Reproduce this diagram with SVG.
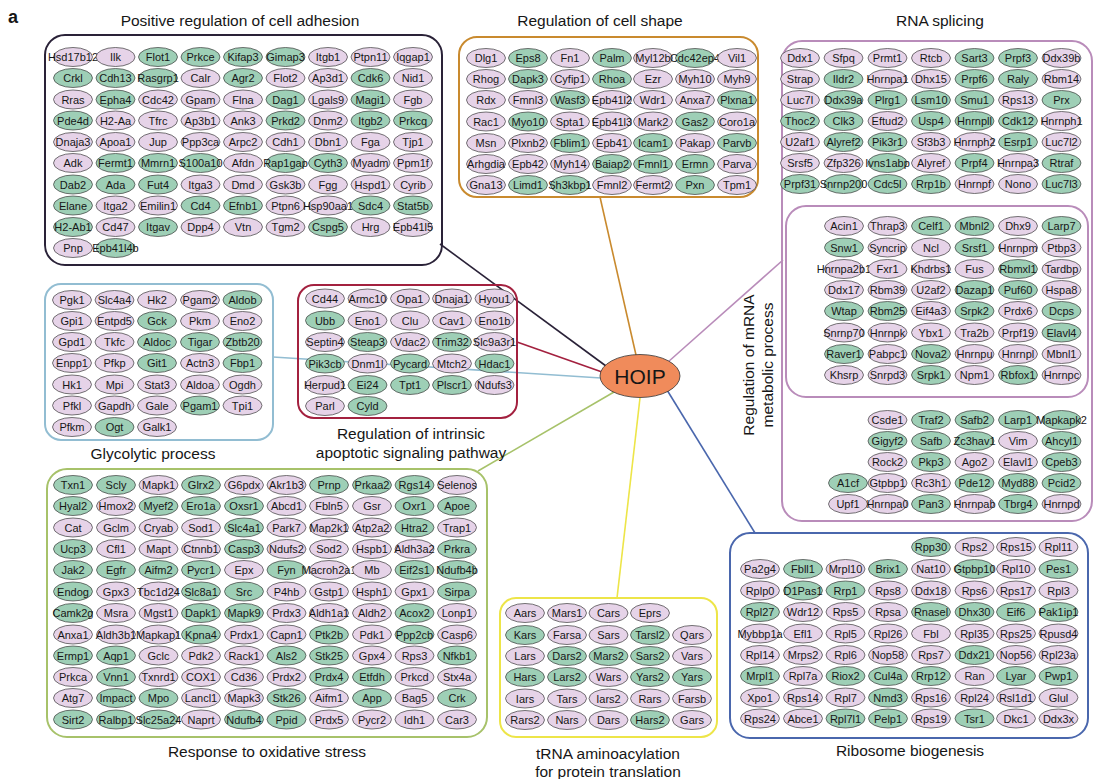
<svg xmlns="http://www.w3.org/2000/svg" xmlns:xlink="http://www.w3.org/1999/xlink" width="1095" height="779" viewBox="0 0 1095 779">
<style>
text{font-family:"Liberation Sans",Arial,Helvetica,sans-serif;fill:#161616}
.nd text{font-size:11px;text-anchor:middle}
.ttl{font-size:15.5px;text-anchor:middle}
.box{fill:none;stroke-width:2}
.cn line{stroke-width:1.6}
</style>
<defs>
<ellipse id="P" rx="19.5" ry="9.5" fill="#e6d3e8" stroke="#3c3c3c" stroke-width="0.7"/>
<ellipse id="G" rx="19.5" ry="9.5" fill="#9ecfb6" stroke="#3c3c3c" stroke-width="0.7"/>
</defs>
<rect width="1095" height="779" fill="#fff"/>
<text x="8" y="23" style="font-size:18px;font-weight:bold">a</text>

<g id="connectors" class="cn">
<line x1="440" y1="244" x2="606" y2="366" stroke="#2a2238"/>
<line x1="600" y1="197" x2="636" y2="355" stroke="#c98a2e"/>
<line x1="783" y1="260" x2="668" y2="362" stroke="#b98cba"/>
<line x1="517" y1="342" x2="602" y2="372" stroke="#a3213f"/>
<line x1="273" y1="357" x2="601" y2="378" stroke="#92bdd2"/>
<line x1="478" y1="471" x2="614" y2="392" stroke="#a7c26a"/>
<line x1="617" y1="598" x2="640" y2="398" stroke="#ede548"/>
<line x1="755" y1="533" x2="667" y2="390" stroke="#4a67ad"/>
</g>

<g id="hoip"><ellipse cx="640" cy="376" rx="40" ry="21.5" fill="#f08b5b" stroke="#333" stroke-width="0.8"/><text x="640" y="383.5" style="font-size:21px;text-anchor:middle">HOIP</text></g>

<g id="cluster-adhesion" class="nd">
<rect class="box" x="45" y="35" width="397" height="230" rx="20" stroke="#2a2238"/>
<text class="ttl" x="240" y="26" style="font-size:15.5px">Positive regulation of cell adhesion</text>
<g id="n_Hsd17b12" transform="translate(73,57)"><use href="#P"/><text y="4">Hsd17b12</text></g>
<g id="n_Ilk" transform="translate(115.5,57)"><use href="#P"/><text y="4">Ilk</text></g>
<g id="n_Flot1" transform="translate(158,57)"><use href="#G"/><text y="4">Flot1</text></g>
<g id="n_Prkce" transform="translate(200.5,57)"><use href="#G"/><text y="4">Prkce</text></g>
<g id="n_Kifap3" transform="translate(243,57)"><use href="#G"/><text y="4">Kifap3</text></g>
<g id="n_Gimap3" transform="translate(285.5,57)"><use href="#G"/><text y="4">Gimap3</text></g>
<g id="n_Itgb1" transform="translate(328,57)"><use href="#P"/><text y="4">Itgb1</text></g>
<g id="n_Ptpn11" transform="translate(370.5,57)"><use href="#P"/><text y="4">Ptpn11</text></g>
<g id="n_Iqgap1" transform="translate(413,57)"><use href="#P"/><text y="4">Iqgap1</text></g>
<g id="n_Crkl" transform="translate(73,78)"><use href="#G"/><text y="4">Crkl</text></g>
<g id="n_Cdh13" transform="translate(115.5,78)"><use href="#G"/><text y="4">Cdh13</text></g>
<g id="n_Rasgrp1" transform="translate(158,78)"><use href="#G"/><text y="4">Rasgrp1</text></g>
<g id="n_Calr" transform="translate(200.5,78)"><use href="#P"/><text y="4">Calr</text></g>
<g id="n_Agr2" transform="translate(243,78)"><use href="#G"/><text y="4">Agr2</text></g>
<g id="n_Flot2" transform="translate(285.5,78)"><use href="#P"/><text y="4">Flot2</text></g>
<g id="n_Ap3d1" transform="translate(328,78)"><use href="#P"/><text y="4">Ap3d1</text></g>
<g id="n_Cdk6" transform="translate(370.5,78)"><use href="#G"/><text y="4">Cdk6</text></g>
<g id="n_Nid1" transform="translate(413,78)"><use href="#P"/><text y="4">Nid1</text></g>
<g id="n_Rras" transform="translate(73,99.5)"><use href="#P"/><text y="4">Rras</text></g>
<g id="n_Epha4" transform="translate(115.5,99.5)"><use href="#G"/><text y="4">Epha4</text></g>
<g id="n_Cdc42" transform="translate(158,99.5)"><use href="#P"/><text y="4">Cdc42</text></g>
<g id="n_Gpam" transform="translate(200.5,99.5)"><use href="#P"/><text y="4">Gpam</text></g>
<g id="n_Flna" transform="translate(243,99.5)"><use href="#P"/><text y="4">Flna</text></g>
<g id="n_Dag1" transform="translate(285.5,99.5)"><use href="#G"/><text y="4">Dag1</text></g>
<g id="n_Lgals9" transform="translate(328,99.5)"><use href="#P"/><text y="4">Lgals9</text></g>
<g id="n_Magi1" transform="translate(370.5,99.5)"><use href="#G"/><text y="4">Magi1</text></g>
<g id="n_Fgb" transform="translate(413,99.5)"><use href="#P"/><text y="4">Fgb</text></g>
<g id="n_Pde4d" transform="translate(73,120.5)"><use href="#G"/><text y="4">Pde4d</text></g>
<g id="n_H2-Aa" transform="translate(115.5,120.5)"><use href="#P"/><text y="4">H2-Aa</text></g>
<g id="n_Tfrc" transform="translate(158,120.5)"><use href="#P"/><text y="4">Tfrc</text></g>
<g id="n_Ap3b1" transform="translate(200.5,120.5)"><use href="#P"/><text y="4">Ap3b1</text></g>
<g id="n_Ank3" transform="translate(243,120.5)"><use href="#P"/><text y="4">Ank3</text></g>
<g id="n_Prkd2" transform="translate(285.5,120.5)"><use href="#G"/><text y="4">Prkd2</text></g>
<g id="n_Dnm2" transform="translate(328,120.5)"><use href="#P"/><text y="4">Dnm2</text></g>
<g id="n_Itgb2" transform="translate(370.5,120.5)"><use href="#G"/><text y="4">Itgb2</text></g>
<g id="n_Prkcq" transform="translate(413,120.5)"><use href="#G"/><text y="4">Prkcq</text></g>
<g id="n_Dnaja3" transform="translate(73,142)"><use href="#P"/><text y="4">Dnaja3</text></g>
<g id="n_Apoa1" transform="translate(115.5,142)"><use href="#P"/><text y="4">Apoa1</text></g>
<g id="n_Jup" transform="translate(158,142)"><use href="#P"/><text y="4">Jup</text></g>
<g id="n_Ppp3ca" transform="translate(200.5,142)"><use href="#P"/><text y="4">Ppp3ca</text></g>
<g id="n_Arpc2" transform="translate(243,142)"><use href="#P"/><text y="4">Arpc2</text></g>
<g id="n_Cdh1" transform="translate(285.5,142)"><use href="#P"/><text y="4">Cdh1</text></g>
<g id="n_Dbn1" transform="translate(328,142)"><use href="#P"/><text y="4">Dbn1</text></g>
<g id="n_Fga" transform="translate(370.5,142)"><use href="#P"/><text y="4">Fga</text></g>
<g id="n_Tjp1" transform="translate(413,142)"><use href="#P"/><text y="4">Tjp1</text></g>
<g id="n_Adk" transform="translate(73,163)"><use href="#P"/><text y="4">Adk</text></g>
<g id="n_Fermt1" transform="translate(115.5,163)"><use href="#G"/><text y="4">Fermt1</text></g>
<g id="n_Mmrn1" transform="translate(158,163)"><use href="#G"/><text y="4">Mmrn1</text></g>
<g id="n_S100a10" transform="translate(200.5,163)"><use href="#G"/><text y="4">S100a10</text></g>
<g id="n_Afdn" transform="translate(243,163)"><use href="#P"/><text y="4">Afdn</text></g>
<g id="n_Rap1gap" transform="translate(285.5,163)"><use href="#G"/><text y="4">Rap1gap</text></g>
<g id="n_Cyth3" transform="translate(328,163)"><use href="#G"/><text y="4">Cyth3</text></g>
<g id="n_Myadm" transform="translate(370.5,163)"><use href="#P"/><text y="4">Myadm</text></g>
<g id="n_Ppm1f" transform="translate(413,163)"><use href="#P"/><text y="4">Ppm1f</text></g>
<g id="n_Dab2" transform="translate(73,184.5)"><use href="#G"/><text y="4">Dab2</text></g>
<g id="n_Ada" transform="translate(115.5,184.5)"><use href="#G"/><text y="4">Ada</text></g>
<g id="n_Fut4" transform="translate(158,184.5)"><use href="#G"/><text y="4">Fut4</text></g>
<g id="n_Itga3" transform="translate(200.5,184.5)"><use href="#P"/><text y="4">Itga3</text></g>
<g id="n_Dmd" transform="translate(243,184.5)"><use href="#P"/><text y="4">Dmd</text></g>
<g id="n_Gsk3b" transform="translate(285.5,184.5)"><use href="#P"/><text y="4">Gsk3b</text></g>
<g id="n_Fgg" transform="translate(328,184.5)"><use href="#P"/><text y="4">Fgg</text></g>
<g id="n_Hspd1" transform="translate(370.5,184.5)"><use href="#P"/><text y="4">Hspd1</text></g>
<g id="n_Cyrib" transform="translate(413,184.5)"><use href="#P"/><text y="4">Cyrib</text></g>
<g id="n_Elane" transform="translate(73,205.5)"><use href="#G"/><text y="4">Elane</text></g>
<g id="n_Itga2" transform="translate(115.5,205.5)"><use href="#P"/><text y="4">Itga2</text></g>
<g id="n_Emilin1" transform="translate(158,205.5)"><use href="#P"/><text y="4">Emilin1</text></g>
<g id="n_Cd4" transform="translate(200.5,205.5)"><use href="#G"/><text y="4">Cd4</text></g>
<g id="n_Efnb1" transform="translate(243,205.5)"><use href="#G"/><text y="4">Efnb1</text></g>
<g id="n_Ptpn6" transform="translate(285.5,205.5)"><use href="#P"/><text y="4">Ptpn6</text></g>
<g id="n_Hsp90aa1" transform="translate(328,205.5)"><use href="#P"/><text y="4">Hsp90aa1</text></g>
<g id="n_Sdc4" transform="translate(370.5,205.5)"><use href="#G"/><text y="4">Sdc4</text></g>
<g id="n_Stat5b" transform="translate(413,205.5)"><use href="#G"/><text y="4">Stat5b</text></g>
<g id="n_H2-Ab1" transform="translate(73,227)"><use href="#G"/><text y="4">H2-Ab1</text></g>
<g id="n_Cd47" transform="translate(115.5,227)"><use href="#P"/><text y="4">Cd47</text></g>
<g id="n_Itgav" transform="translate(158,227)"><use href="#G"/><text y="4">Itgav</text></g>
<g id="n_Dpp4" transform="translate(200.5,227)"><use href="#P"/><text y="4">Dpp4</text></g>
<g id="n_Vtn" transform="translate(243,227)"><use href="#P"/><text y="4">Vtn</text></g>
<g id="n_Tgm2" transform="translate(285.5,227)"><use href="#P"/><text y="4">Tgm2</text></g>
<g id="n_Cspg5" transform="translate(328,227)"><use href="#G"/><text y="4">Cspg5</text></g>
<g id="n_Hrg" transform="translate(370.5,227)"><use href="#P"/><text y="4">Hrg</text></g>
<g id="n_Epb41l5" transform="translate(413,227)"><use href="#P"/><text y="4">Epb41l5</text></g>
<g id="n_Pnp" transform="translate(73,248)"><use href="#P"/><text y="4">Pnp</text></g>
<g id="n_Epb41l4b" transform="translate(115.5,248)"><use href="#G"/><text y="4">Epb41l4b</text></g>
</g>

<g id="cluster-shape" class="nd">
<rect class="box" x="459" y="37" width="299" height="160" rx="18" stroke="#c98a2e"/>
<text class="ttl" x="600" y="26" style="font-size:15.5px">Regulation of cell shape</text>
<g id="n_Dlg1" transform="translate(486,58)"><use href="#P"/><text y="4">Dlg1</text></g>
<g id="n_Eps8" transform="translate(528,58)"><use href="#G"/><text y="4">Eps8</text></g>
<g id="n_Fn1" transform="translate(570,58)"><use href="#P"/><text y="4">Fn1</text></g>
<g id="n_Palm" transform="translate(612,58)"><use href="#G"/><text y="4">Palm</text></g>
<g id="n_Myl12b" transform="translate(653,58)"><use href="#P"/><text y="4">Myl12b</text></g>
<g id="n_Cdc42ep4" transform="translate(695,58)"><use href="#G"/><text y="4">Cdc42ep4</text></g>
<g id="n_Vil1" transform="translate(737,58)"><use href="#P"/><text y="4">Vil1</text></g>
<g id="n_Rhog" transform="translate(486,79)"><use href="#P"/><text y="4">Rhog</text></g>
<g id="n_Dapk3" transform="translate(528,79)"><use href="#G"/><text y="4">Dapk3</text></g>
<g id="n_Cyfip1" transform="translate(570,79)"><use href="#P"/><text y="4">Cyfip1</text></g>
<g id="n_Rhoa" transform="translate(612,79)"><use href="#G"/><text y="4">Rhoa</text></g>
<g id="n_Ezr" transform="translate(653,79)"><use href="#P"/><text y="4">Ezr</text></g>
<g id="n_Myh10" transform="translate(695,79)"><use href="#P"/><text y="4">Myh10</text></g>
<g id="n_Myh9" transform="translate(737,79)"><use href="#P"/><text y="4">Myh9</text></g>
<g id="n_Rdx" transform="translate(486,100)"><use href="#P"/><text y="4">Rdx</text></g>
<g id="n_Fmnl3" transform="translate(528,100)"><use href="#P"/><text y="4">Fmnl3</text></g>
<g id="n_Wasf3" transform="translate(570,100)"><use href="#G"/><text y="4">Wasf3</text></g>
<g id="n_Epb41l2" transform="translate(612,100)"><use href="#P"/><text y="4">Epb41l2</text></g>
<g id="n_Wdr1" transform="translate(653,100)"><use href="#P"/><text y="4">Wdr1</text></g>
<g id="n_Anxa7" transform="translate(695,100)"><use href="#P"/><text y="4">Anxa7</text></g>
<g id="n_Plxna1" transform="translate(737,100)"><use href="#G"/><text y="4">Plxna1</text></g>
<g id="n_Rac1" transform="translate(486,121.5)"><use href="#P"/><text y="4">Rac1</text></g>
<g id="n_Myo10" transform="translate(528,121.5)"><use href="#G"/><text y="4">Myo10</text></g>
<g id="n_Spta1" transform="translate(570,121.5)"><use href="#P"/><text y="4">Spta1</text></g>
<g id="n_Epb41l3" transform="translate(612,121.5)"><use href="#P"/><text y="4">Epb41l3</text></g>
<g id="n_Mark2" transform="translate(653,121.5)"><use href="#P"/><text y="4">Mark2</text></g>
<g id="n_Gas2" transform="translate(695,121.5)"><use href="#G"/><text y="4">Gas2</text></g>
<g id="n_Coro1a" transform="translate(737,121.5)"><use href="#P"/><text y="4">Coro1a</text></g>
<g id="n_Msn" transform="translate(486,143)"><use href="#P"/><text y="4">Msn</text></g>
<g id="n_Plxnb2" transform="translate(528,143)"><use href="#P"/><text y="4">Plxnb2</text></g>
<g id="n_Fblim1" transform="translate(570,143)"><use href="#G"/><text y="4">Fblim1</text></g>
<g id="n_Epb41" transform="translate(612,143)"><use href="#P"/><text y="4">Epb41</text></g>
<g id="n_Icam1" transform="translate(653,143)"><use href="#G"/><text y="4">Icam1</text></g>
<g id="n_Pakap" transform="translate(695,143)"><use href="#P"/><text y="4">Pakap</text></g>
<g id="n_Parvb" transform="translate(737,143)"><use href="#G"/><text y="4">Parvb</text></g>
<g id="n_Arhgdia" transform="translate(486,164)"><use href="#P"/><text y="4">Arhgdia</text></g>
<g id="n_Epb42" transform="translate(528,164)"><use href="#P"/><text y="4">Epb42</text></g>
<g id="n_Myh14" transform="translate(570,164)"><use href="#P"/><text y="4">Myh14</text></g>
<g id="n_Baiap2" transform="translate(612,164)"><use href="#G"/><text y="4">Baiap2</text></g>
<g id="n_Fmnl1" transform="translate(653,164)"><use href="#G"/><text y="4">Fmnl1</text></g>
<g id="n_Ermn" transform="translate(695,164)"><use href="#G"/><text y="4">Ermn</text></g>
<g id="n_Parva" transform="translate(737,164)"><use href="#P"/><text y="4">Parva</text></g>
<g id="n_Gna13" transform="translate(486,185)"><use href="#P"/><text y="4">Gna13</text></g>
<g id="n_Limd1" transform="translate(528,185)"><use href="#G"/><text y="4">Limd1</text></g>
<g id="n_Sh3kbp1" transform="translate(570,185)"><use href="#G"/><text y="4">Sh3kbp1</text></g>
<g id="n_Fmnl2" transform="translate(612,185)"><use href="#P"/><text y="4">Fmnl2</text></g>
<g id="n_Fermt2" transform="translate(653,185)"><use href="#P"/><text y="4">Fermt2</text></g>
<g id="n_Pxn" transform="translate(695,185)"><use href="#G"/><text y="4">Pxn</text></g>
<g id="n_Tpm1" transform="translate(737,185)"><use href="#P"/><text y="4">Tpm1</text></g>
</g>

<g id="cluster-rna" class="nd">
<rect class="box" x="782" y="41" width="310" height="480" rx="20" stroke="#b98cba"/>
<rect class="box" x="786" y="206" width="302" height="191" rx="20" stroke="#b98cba"/>
<text class="ttl" x="940" y="26" style="font-size:15.5px">RNA splicing</text>
<text class="ttl" transform="translate(754,365) rotate(-90)" style="font-size:15.5px">Regulation of mRNA</text>
<text class="ttl" transform="translate(773,365) rotate(-90)" style="font-size:15.5px">metabolic process</text>
<g id="n_Ddx1" transform="translate(800,58)"><use href="#P"/><text y="4">Ddx1</text></g>
<g id="n_Sfpq" transform="translate(843.5,58)"><use href="#P"/><text y="4">Sfpq</text></g>
<g id="n_Prmt1" transform="translate(887.5,58)"><use href="#P"/><text y="4">Prmt1</text></g>
<g id="n_Rtcb" transform="translate(931,58)"><use href="#P"/><text y="4">Rtcb</text></g>
<g id="n_Sart3" transform="translate(974.5,58)"><use href="#G"/><text y="4">Sart3</text></g>
<g id="n_Prpf3" transform="translate(1018,58)"><use href="#G"/><text y="4">Prpf3</text></g>
<g id="n_Ddx39b" transform="translate(1061.5,58)"><use href="#P"/><text y="4">Ddx39b</text></g>
<g id="n_Strap" transform="translate(800,79)"><use href="#P"/><text y="4">Strap</text></g>
<g id="n_Ildr2" transform="translate(843.5,79)"><use href="#G"/><text y="4">Ildr2</text></g>
<g id="n_Hnrnpa1" transform="translate(887.5,79)"><use href="#P"/><text y="4">Hnrnpa1</text></g>
<g id="n_Dhx15" transform="translate(931,79)"><use href="#P"/><text y="4">Dhx15</text></g>
<g id="n_Prpf6" transform="translate(974.5,79)"><use href="#G"/><text y="4">Prpf6</text></g>
<g id="n_Raly" transform="translate(1018,79)"><use href="#G"/><text y="4">Raly</text></g>
<g id="n_Rbm14" transform="translate(1061.5,79)"><use href="#P"/><text y="4">Rbm14</text></g>
<g id="n_Luc7l" transform="translate(800,100)"><use href="#P"/><text y="4">Luc7l</text></g>
<g id="n_Ddx39a" transform="translate(843.5,100)"><use href="#G"/><text y="4">Ddx39a</text></g>
<g id="n_Plrg1" transform="translate(887.5,100)"><use href="#G"/><text y="4">Plrg1</text></g>
<g id="n_Lsm10" transform="translate(931,100)"><use href="#G"/><text y="4">Lsm10</text></g>
<g id="n_Smu1" transform="translate(974.5,100)"><use href="#G"/><text y="4">Smu1</text></g>
<g id="n_Rps13" transform="translate(1018,100)"><use href="#P"/><text y="4">Rps13</text></g>
<g id="n_Prx" transform="translate(1061.5,100)"><use href="#G"/><text y="4">Prx</text></g>
<g id="n_Thoc2" transform="translate(800,121)"><use href="#G"/><text y="4">Thoc2</text></g>
<g id="n_Clk3" transform="translate(843.5,121)"><use href="#G"/><text y="4">Clk3</text></g>
<g id="n_Eftud2" transform="translate(887.5,121)"><use href="#P"/><text y="4">Eftud2</text></g>
<g id="n_Usp4" transform="translate(931,121)"><use href="#G"/><text y="4">Usp4</text></g>
<g id="n_Hnrnpll" transform="translate(974.5,121)"><use href="#G"/><text y="4">Hnrnpll</text></g>
<g id="n_Cdk12" transform="translate(1018,121)"><use href="#G"/><text y="4">Cdk12</text></g>
<g id="n_Hnrnph1" transform="translate(1061.5,121)"><use href="#P"/><text y="4">Hnrnph1</text></g>
<g id="n_U2af1" transform="translate(800,142)"><use href="#P"/><text y="4">U2af1</text></g>
<g id="n_Alyref2" transform="translate(843.5,142)"><use href="#G"/><text y="4">Alyref2</text></g>
<g id="n_Pik3r1" transform="translate(887.5,142)"><use href="#G"/><text y="4">Pik3r1</text></g>
<g id="n_Sf3b3" transform="translate(931,142)"><use href="#P"/><text y="4">Sf3b3</text></g>
<g id="n_Hnrnph2" transform="translate(974.5,142)"><use href="#P"/><text y="4">Hnrnph2</text></g>
<g id="n_Esrp1" transform="translate(1018,142)"><use href="#G"/><text y="4">Esrp1</text></g>
<g id="n_Luc7l2" transform="translate(1061.5,142)"><use href="#P"/><text y="4">Luc7l2</text></g>
<g id="n_Srsf5" transform="translate(800,163)"><use href="#P"/><text y="4">Srsf5</text></g>
<g id="n_Zfp326" transform="translate(843.5,163)"><use href="#P"/><text y="4">Zfp326</text></g>
<g id="n_Ivns1abp" transform="translate(887.5,163)"><use href="#G"/><text y="4">Ivns1abp</text></g>
<g id="n_Alyref" transform="translate(931,163)"><use href="#P"/><text y="4">Alyref</text></g>
<g id="n_Prpf4" transform="translate(974.5,163)"><use href="#G"/><text y="4">Prpf4</text></g>
<g id="n_Hnrnpa3" transform="translate(1018,163)"><use href="#P"/><text y="4">Hnrnpa3</text></g>
<g id="n_Rtraf" transform="translate(1061.5,163)"><use href="#G"/><text y="4">Rtraf</text></g>
<g id="n_Prpf31" transform="translate(800,184)"><use href="#G"/><text y="4">Prpf31</text></g>
<g id="n_Snrnp200" transform="translate(843.5,184)"><use href="#G"/><text y="4">Snrnp200</text></g>
<g id="n_Cdc5l" transform="translate(887.5,184)"><use href="#G"/><text y="4">Cdc5l</text></g>
<g id="n_Rrp1b" transform="translate(931,184)"><use href="#G"/><text y="4">Rrp1b</text></g>
<g id="n_Hnrnpf" transform="translate(974.5,184)"><use href="#P"/><text y="4">Hnrnpf</text></g>
<g id="n_Nono" transform="translate(1018,184)"><use href="#P"/><text y="4">Nono</text></g>
<g id="n_Luc7l3" transform="translate(1061.5,184)"><use href="#G"/><text y="4">Luc7l3</text></g>

<g id="n_Acin1" transform="translate(844,226)"><use href="#P"/><text y="4">Acin1</text></g>
<g id="n_Thrap3" transform="translate(887.5,226)"><use href="#P"/><text y="4">Thrap3</text></g>
<g id="n_Celf1" transform="translate(931,226)"><use href="#G"/><text y="4">Celf1</text></g>
<g id="n_Mbnl2" transform="translate(974.5,226)"><use href="#G"/><text y="4">Mbnl2</text></g>
<g id="n_Dhx9" transform="translate(1018,226)"><use href="#P"/><text y="4">Dhx9</text></g>
<g id="n_Larp7" transform="translate(1061.5,226)"><use href="#G"/><text y="4">Larp7</text></g>
<g id="n_Snw1" transform="translate(844,247.5)"><use href="#G"/><text y="4">Snw1</text></g>
<g id="n_Syncrip" transform="translate(887.5,247.5)"><use href="#P"/><text y="4">Syncrip</text></g>
<g id="n_Ncl" transform="translate(931,247.5)"><use href="#P"/><text y="4">Ncl</text></g>
<g id="n_Srsf1" transform="translate(974.5,247.5)"><use href="#G"/><text y="4">Srsf1</text></g>
<g id="n_Hnrnpm" transform="translate(1018,247.5)"><use href="#P"/><text y="4">Hnrnpm</text></g>
<g id="n_Ptbp3" transform="translate(1061.5,247.5)"><use href="#P"/><text y="4">Ptbp3</text></g>
<g id="n_Hnrnpa2b1" transform="translate(844,269)"><use href="#P"/><text y="4">Hnrnpa2b1</text></g>
<g id="n_Fxr1" transform="translate(887.5,269)"><use href="#P"/><text y="4">Fxr1</text></g>
<g id="n_Khdrbs1" transform="translate(931,269)"><use href="#P"/><text y="4">Khdrbs1</text></g>
<g id="n_Fus" transform="translate(974.5,269)"><use href="#P"/><text y="4">Fus</text></g>
<g id="n_Rbmxl1" transform="translate(1018,269)"><use href="#G"/><text y="4">Rbmxl1</text></g>
<g id="n_Tardbp" transform="translate(1061.5,269)"><use href="#P"/><text y="4">Tardbp</text></g>
<g id="n_Ddx17" transform="translate(844,290)"><use href="#P"/><text y="4">Ddx17</text></g>
<g id="n_Rbm39" transform="translate(887.5,290)"><use href="#P"/><text y="4">Rbm39</text></g>
<g id="n_U2af2" transform="translate(931,290)"><use href="#P"/><text y="4">U2af2</text></g>
<g id="n_Dazap1" transform="translate(974.5,290)"><use href="#G"/><text y="4">Dazap1</text></g>
<g id="n_Puf60" transform="translate(1018,290)"><use href="#G"/><text y="4">Puf60</text></g>
<g id="n_Hspa8" transform="translate(1061.5,290)"><use href="#P"/><text y="4">Hspa8</text></g>
<g id="n_Wtap" transform="translate(844,311)"><use href="#G"/><text y="4">Wtap</text></g>
<g id="n_Rbm25" transform="translate(887.5,311)"><use href="#G"/><text y="4">Rbm25</text></g>
<g id="n_Eif4a3" transform="translate(931,311)"><use href="#P"/><text y="4">Eif4a3</text></g>
<g id="n_Srpk2" transform="translate(974.5,311)"><use href="#G"/><text y="4">Srpk2</text></g>
<g id="n_Prdx6" transform="translate(1018,311)"><use href="#P"/><text y="4">Prdx6</text></g>
<g id="n_Dcps" transform="translate(1061.5,311)"><use href="#G"/><text y="4">Dcps</text></g>
<g id="n_Snrnp70" transform="translate(844,332.5)"><use href="#P"/><text y="4">Snrnp70</text></g>
<g id="n_Hnrnpk" transform="translate(887.5,332.5)"><use href="#P"/><text y="4">Hnrnpk</text></g>
<g id="n_Ybx1" transform="translate(931,332.5)"><use href="#P"/><text y="4">Ybx1</text></g>
<g id="n_Tra2b" transform="translate(974.5,332.5)"><use href="#P"/><text y="4">Tra2b</text></g>
<g id="n_Prpf19" transform="translate(1018,332.5)"><use href="#P"/><text y="4">Prpf19</text></g>
<g id="n_Elavl4" transform="translate(1061.5,332.5)"><use href="#G"/><text y="4">Elavl4</text></g>
<g id="n_Raver1" transform="translate(844,354)"><use href="#G"/><text y="4">Raver1</text></g>
<g id="n_Pabpc1" transform="translate(887.5,354)"><use href="#P"/><text y="4">Pabpc1</text></g>
<g id="n_Nova2" transform="translate(931,354)"><use href="#G"/><text y="4">Nova2</text></g>
<g id="n_Hnrnpu" transform="translate(974.5,354)"><use href="#P"/><text y="4">Hnrnpu</text></g>
<g id="n_Hnrnpl" transform="translate(1018,354)"><use href="#P"/><text y="4">Hnrnpl</text></g>
<g id="n_Mbnl1" transform="translate(1061.5,354)"><use href="#P"/><text y="4">Mbnl1</text></g>
<g id="n_Khsrp" transform="translate(844,375)"><use href="#P"/><text y="4">Khsrp</text></g>
<g id="n_Snrpd3" transform="translate(887.5,375)"><use href="#P"/><text y="4">Snrpd3</text></g>
<g id="n_Srpk1" transform="translate(931,375)"><use href="#G"/><text y="4">Srpk1</text></g>
<g id="n_Npm1" transform="translate(974.5,375)"><use href="#P"/><text y="4">Npm1</text></g>
<g id="n_Rbfox1" transform="translate(1018,375)"><use href="#G"/><text y="4">Rbfox1</text></g>
<g id="n_Hnrnpc" transform="translate(1061.5,375)"><use href="#P"/><text y="4">Hnrnpc</text></g>

<g id="n_Csde1" transform="translate(887.5,420)"><use href="#P"/><text y="4">Csde1</text></g>
<g id="n_Traf2" transform="translate(931,420)"><use href="#G"/><text y="4">Traf2</text></g>
<g id="n_Safb2" transform="translate(974.5,420)"><use href="#G"/><text y="4">Safb2</text></g>
<g id="n_Larp1" transform="translate(1018,420)"><use href="#G"/><text y="4">Larp1</text></g>
<g id="n_Mapkapk2" transform="translate(1061.5,420)"><use href="#G"/><text y="4">Mapkapk2</text></g>
<g id="n_Gigyf2" transform="translate(887.5,441)"><use href="#G"/><text y="4">Gigyf2</text></g>
<g id="n_Safb" transform="translate(931,441)"><use href="#G"/><text y="4">Safb</text></g>
<g id="n_Zc3hav1" transform="translate(974.5,441)"><use href="#G"/><text y="4">Zc3hav1</text></g>
<g id="n_Vim" transform="translate(1018,441)"><use href="#P"/><text y="4">Vim</text></g>
<g id="n_Ahcyl1" transform="translate(1061.5,441)"><use href="#G"/><text y="4">Ahcyl1</text></g>
<g id="n_Rock2" transform="translate(887.5,462)"><use href="#P"/><text y="4">Rock2</text></g>
<g id="n_Pkp3" transform="translate(931,462)"><use href="#G"/><text y="4">Pkp3</text></g>
<g id="n_Ago2" transform="translate(974.5,462)"><use href="#P"/><text y="4">Ago2</text></g>
<g id="n_Elavl1" transform="translate(1018,462)"><use href="#P"/><text y="4">Elavl1</text></g>
<g id="n_Cpeb3" transform="translate(1061.5,462)"><use href="#G"/><text y="4">Cpeb3</text></g>
<g id="n_A1cf" transform="translate(848,483)"><use href="#G"/><text y="4">A1cf</text></g>
<g id="n_Gtpbp1" transform="translate(887.5,483)"><use href="#P"/><text y="4">Gtpbp1</text></g>
<g id="n_Rc3h1" transform="translate(931,483)"><use href="#P"/><text y="4">Rc3h1</text></g>
<g id="n_Pde12" transform="translate(974.5,483)"><use href="#G"/><text y="4">Pde12</text></g>
<g id="n_Myd88" transform="translate(1018,483)"><use href="#G"/><text y="4">Myd88</text></g>
<g id="n_Pcid2" transform="translate(1061.5,483)"><use href="#G"/><text y="4">Pcid2</text></g>
<g id="n_Upf1" transform="translate(848,504)"><use href="#P"/><text y="4">Upf1</text></g>
<g id="n_Hnrnpa0" transform="translate(887.5,504)"><use href="#P"/><text y="4">Hnrnpa0</text></g>
<g id="n_Pan3" transform="translate(931,504)"><use href="#G"/><text y="4">Pan3</text></g>
<g id="n_Hnrnpab" transform="translate(974.5,504)"><use href="#P"/><text y="4">Hnrnpab</text></g>
<g id="n_Tbrg4" transform="translate(1018,504)"><use href="#G"/><text y="4">Tbrg4</text></g>
<g id="n_Hnrnpd" transform="translate(1061.5,504)"><use href="#P"/><text y="4">Hnrnpd</text></g>
</g>

<g id="cluster-glycolytic" class="nd">
<rect class="box" x="45" y="284" width="228" height="156" rx="16" stroke="#92bdd2"/>
<text class="ttl" x="153" y="459" style="font-size:15.5px">Glycolytic process</text>
<g id="n_Pgk1" transform="translate(72,300)"><use href="#P"/><text y="4">Pgk1</text></g>
<g id="n_Slc4a4" transform="translate(114.5,300)"><use href="#P"/><text y="4">Slc4a4</text></g>
<g id="n_Hk2" transform="translate(157,300)"><use href="#P"/><text y="4">Hk2</text></g>
<g id="n_Pgam2" transform="translate(200,300)"><use href="#P"/><text y="4">Pgam2</text></g>
<g id="n_Aldob" transform="translate(242.5,300)"><use href="#G"/><text y="4">Aldob</text></g>
<g id="n_Gpi1" transform="translate(72,321)"><use href="#P"/><text y="4">Gpi1</text></g>
<g id="n_Entpd5" transform="translate(114.5,321)"><use href="#P"/><text y="4">Entpd5</text></g>
<g id="n_Gck" transform="translate(157,321)"><use href="#G"/><text y="4">Gck</text></g>
<g id="n_Pkm" transform="translate(200,321)"><use href="#P"/><text y="4">Pkm</text></g>
<g id="n_Eno2" transform="translate(242.5,321)"><use href="#P"/><text y="4">Eno2</text></g>
<g id="n_Gpd1" transform="translate(72,342)"><use href="#P"/><text y="4">Gpd1</text></g>
<g id="n_Tkfc" transform="translate(114.5,342)"><use href="#P"/><text y="4">Tkfc</text></g>
<g id="n_Aldoc" transform="translate(157,342)"><use href="#G"/><text y="4">Aldoc</text></g>
<g id="n_Tigar" transform="translate(200,342)"><use href="#G"/><text y="4">Tigar</text></g>
<g id="n_Zbtb20" transform="translate(242.5,342)"><use href="#G"/><text y="4">Zbtb20</text></g>
<g id="n_Enpp1" transform="translate(72,363)"><use href="#P"/><text y="4">Enpp1</text></g>
<g id="n_Pfkp" transform="translate(114.5,363)"><use href="#P"/><text y="4">Pfkp</text></g>
<g id="n_Git1" transform="translate(157,363)"><use href="#G"/><text y="4">Git1</text></g>
<g id="n_Actn3" transform="translate(200,363)"><use href="#P"/><text y="4">Actn3</text></g>
<g id="n_Fbp1" transform="translate(242.5,363)"><use href="#G"/><text y="4">Fbp1</text></g>
<g id="n_Hk1" transform="translate(72,384.5)"><use href="#P"/><text y="4">Hk1</text></g>
<g id="n_Mpi" transform="translate(114.5,384.5)"><use href="#P"/><text y="4">Mpi</text></g>
<g id="n_Stat3" transform="translate(157,384.5)"><use href="#P"/><text y="4">Stat3</text></g>
<g id="n_Aldoa" transform="translate(200,384.5)"><use href="#P"/><text y="4">Aldoa</text></g>
<g id="n_Ogdh" transform="translate(242.5,384.5)"><use href="#P"/><text y="4">Ogdh</text></g>
<g id="n_Pfkl" transform="translate(72,405.5)"><use href="#P"/><text y="4">Pfkl</text></g>
<g id="n_Gapdh" transform="translate(114.5,405.5)"><use href="#P"/><text y="4">Gapdh</text></g>
<g id="n_Gale" transform="translate(157,405.5)"><use href="#P"/><text y="4">Gale</text></g>
<g id="n_Pgam1" transform="translate(200,405.5)"><use href="#G"/><text y="4">Pgam1</text></g>
<g id="n_Tpi1" transform="translate(242.5,405.5)"><use href="#P"/><text y="4">Tpi1</text></g>
<g id="n_Pfkm" transform="translate(72,427)"><use href="#P"/><text y="4">Pfkm</text></g>
<g id="n_Ogt" transform="translate(114.5,427)"><use href="#G"/><text y="4">Ogt</text></g>
<g id="n_Galk1" transform="translate(157,427)"><use href="#P"/><text y="4">Galk1</text></g>
</g>

<g id="cluster-apoptotic" class="nd">
<rect class="box" x="298" y="285" width="219" height="133" rx="16" stroke="#a3213f"/>
<text class="ttl" x="411" y="439" style="font-size:15.5px">Regulation of intrinsic</text>
<text class="ttl" x="411" y="458" style="font-size:15.5px">apoptotic signaling pathway</text>
<g id="n_Cd44" transform="translate(325,298.5)"><use href="#P"/><text y="4">Cd44</text></g>
<g id="n_Armc10" transform="translate(367.5,298.5)"><use href="#P"/><text y="4">Armc10</text></g>
<g id="n_Opa1" transform="translate(410,298.5)"><use href="#P"/><text y="4">Opa1</text></g>
<g id="n_Dnaja1" transform="translate(452,298.5)"><use href="#P"/><text y="4">Dnaja1</text></g>
<g id="n_Hyou1" transform="translate(494.5,298.5)"><use href="#P"/><text y="4">Hyou1</text></g>
<g id="n_Ubb" transform="translate(325,320.5)"><use href="#G"/><text y="4">Ubb</text></g>
<g id="n_Eno1" transform="translate(367.5,320.5)"><use href="#P"/><text y="4">Eno1</text></g>
<g id="n_Clu" transform="translate(410,320.5)"><use href="#P"/><text y="4">Clu</text></g>
<g id="n_Cav1" transform="translate(452,320.5)"><use href="#P"/><text y="4">Cav1</text></g>
<g id="n_Eno1b" transform="translate(494.5,320.5)"><use href="#P"/><text y="4">Eno1b</text></g>
<g id="n_Septin4" transform="translate(325,342)"><use href="#P"/><text y="4">Septin4</text></g>
<g id="n_Steap3" transform="translate(367.5,342)"><use href="#G"/><text y="4">Steap3</text></g>
<g id="n_Vdac2" transform="translate(410,342)"><use href="#P"/><text y="4">Vdac2</text></g>
<g id="n_Trim32" transform="translate(452,342)"><use href="#G"/><text y="4">Trim32</text></g>
<g id="n_Slc9a3r1" transform="translate(494.5,342)"><use href="#P"/><text y="4">Slc9a3r1</text></g>
<g id="n_Pik3cb" transform="translate(325,363.5)"><use href="#G"/><text y="4">Pik3cb</text></g>
<g id="n_Dnm1l" transform="translate(367.5,363.5)"><use href="#P"/><text y="4">Dnm1l</text></g>
<g id="n_Pycard" transform="translate(410,363.5)"><use href="#G"/><text y="4">Pycard</text></g>
<g id="n_Mtch2" transform="translate(452,363.5)"><use href="#P"/><text y="4">Mtch2</text></g>
<g id="n_Hdac1" transform="translate(494.5,363.5)"><use href="#G"/><text y="4">Hdac1</text></g>
<g id="n_Herpud1" transform="translate(325,385)"><use href="#P"/><text y="4">Herpud1</text></g>
<g id="n_Ei24" transform="translate(367.5,385)"><use href="#G"/><text y="4">Ei24</text></g>
<g id="n_Tpt1" transform="translate(410,385)"><use href="#G"/><text y="4">Tpt1</text></g>
<g id="n_Plscr1" transform="translate(452,385)"><use href="#G"/><text y="4">Plscr1</text></g>
<g id="n_Ndufs3" transform="translate(494.5,385)"><use href="#P"/><text y="4">Ndufs3</text></g>
<g id="n_Parl" transform="translate(325,406)"><use href="#P"/><text y="4">Parl</text></g>
<g id="n_Cyld" transform="translate(367.5,406)"><use href="#G"/><text y="4">Cyld</text></g>
</g>

<g id="cluster-oxidative" class="nd">
<rect class="box" x="47" y="469" width="440" height="268" rx="20" stroke="#a7c26a"/>
<text class="ttl" x="267" y="757" style="font-size:15.5px">Response to oxidative stress</text>
<g id="n_Txn1" transform="translate(73,485)"><use href="#G"/><text y="4">Txn1</text></g>
<g id="n_Scly" transform="translate(116,485)"><use href="#G"/><text y="4">Scly</text></g>
<g id="n_Mapk1" transform="translate(158.5,485)"><use href="#P"/><text y="4">Mapk1</text></g>
<g id="n_Glrx2" transform="translate(201,485)"><use href="#G"/><text y="4">Glrx2</text></g>
<g id="n_G6pdx" transform="translate(244,485)"><use href="#P"/><text y="4">G6pdx</text></g>
<g id="n_Akr1b3" transform="translate(286.5,485)"><use href="#P"/><text y="4">Akr1b3</text></g>
<g id="n_Prnp" transform="translate(329,485)"><use href="#G"/><text y="4">Prnp</text></g>
<g id="n_Prkaa2" transform="translate(372,485)"><use href="#G"/><text y="4">Prkaa2</text></g>
<g id="n_Rgs14" transform="translate(414.5,485)"><use href="#G"/><text y="4">Rgs14</text></g>
<g id="n_Selenos" transform="translate(457,485)"><use href="#P"/><text y="4">Selenos</text></g>
<g id="n_Hyal2" transform="translate(73,506)"><use href="#G"/><text y="4">Hyal2</text></g>
<g id="n_Hmox2" transform="translate(116,506)"><use href="#P"/><text y="4">Hmox2</text></g>
<g id="n_Myef2" transform="translate(158.5,506)"><use href="#G"/><text y="4">Myef2</text></g>
<g id="n_Ero1a" transform="translate(201,506)"><use href="#G"/><text y="4">Ero1a</text></g>
<g id="n_Oxsr1" transform="translate(244,506)"><use href="#G"/><text y="4">Oxsr1</text></g>
<g id="n_Abcd1" transform="translate(286.5,506)"><use href="#P"/><text y="4">Abcd1</text></g>
<g id="n_Fbln5" transform="translate(329,506)"><use href="#P"/><text y="4">Fbln5</text></g>
<g id="n_Gsr" transform="translate(372,506)"><use href="#P"/><text y="4">Gsr</text></g>
<g id="n_Oxr1" transform="translate(414.5,506)"><use href="#G"/><text y="4">Oxr1</text></g>
<g id="n_Apoe" transform="translate(457,506)"><use href="#G"/><text y="4">Apoe</text></g>
<g id="n_Cat" transform="translate(73,527.5)"><use href="#P"/><text y="4">Cat</text></g>
<g id="n_Gclm" transform="translate(116,527.5)"><use href="#P"/><text y="4">Gclm</text></g>
<g id="n_Cryab" transform="translate(158.5,527.5)"><use href="#P"/><text y="4">Cryab</text></g>
<g id="n_Sod1" transform="translate(201,527.5)"><use href="#P"/><text y="4">Sod1</text></g>
<g id="n_Slc4a1" transform="translate(244,527.5)"><use href="#G"/><text y="4">Slc4a1</text></g>
<g id="n_Park7" transform="translate(286.5,527.5)"><use href="#P"/><text y="4">Park7</text></g>
<g id="n_Map2k1" transform="translate(329,527.5)"><use href="#P"/><text y="4">Map2k1</text></g>
<g id="n_Atp2a2" transform="translate(372,527.5)"><use href="#P"/><text y="4">Atp2a2</text></g>
<g id="n_Htra2" transform="translate(414.5,527.5)"><use href="#G"/><text y="4">Htra2</text></g>
<g id="n_Trap1" transform="translate(457,527.5)"><use href="#P"/><text y="4">Trap1</text></g>
<g id="n_Ucp3" transform="translate(73,549)"><use href="#G"/><text y="4">Ucp3</text></g>
<g id="n_Cfl1" transform="translate(116,549)"><use href="#P"/><text y="4">Cfl1</text></g>
<g id="n_Mapt" transform="translate(158.5,549)"><use href="#P"/><text y="4">Mapt</text></g>
<g id="n_Ctnnb1" transform="translate(201,549)"><use href="#P"/><text y="4">Ctnnb1</text></g>
<g id="n_Casp3" transform="translate(244,549)"><use href="#G"/><text y="4">Casp3</text></g>
<g id="n_Ndufs2" transform="translate(286.5,549)"><use href="#P"/><text y="4">Ndufs2</text></g>
<g id="n_Sod2" transform="translate(329,549)"><use href="#P"/><text y="4">Sod2</text></g>
<g id="n_Hspb1" transform="translate(372,549)"><use href="#P"/><text y="4">Hspb1</text></g>
<g id="n_Aldh3a2" transform="translate(414.5,549)"><use href="#P"/><text y="4">Aldh3a2</text></g>
<g id="n_Prkra" transform="translate(457,549)"><use href="#G"/><text y="4">Prkra</text></g>
<g id="n_Jak2" transform="translate(73,570)"><use href="#G"/><text y="4">Jak2</text></g>
<g id="n_Egfr" transform="translate(116,570)"><use href="#G"/><text y="4">Egfr</text></g>
<g id="n_Aifm2" transform="translate(158.5,570)"><use href="#G"/><text y="4">Aifm2</text></g>
<g id="n_Pycr1" transform="translate(201,570)"><use href="#G"/><text y="4">Pycr1</text></g>
<g id="n_Epx" transform="translate(244,570)"><use href="#P"/><text y="4">Epx</text></g>
<g id="n_Fyn" transform="translate(286.5,570)"><use href="#G"/><text y="4">Fyn</text></g>
<g id="n_Macroh2a1" transform="translate(329,570)"><use href="#P"/><text y="4">Macroh2a1</text></g>
<g id="n_Mb" transform="translate(372,570)"><use href="#P"/><text y="4">Mb</text></g>
<g id="n_Eif2s1" transform="translate(414.5,570)"><use href="#G"/><text y="4">Eif2s1</text></g>
<g id="n_Ndufb4b" transform="translate(457,570)"><use href="#G"/><text y="4">Ndufb4b</text></g>
<g id="n_Endog" transform="translate(73,591.5)"><use href="#G"/><text y="4">Endog</text></g>
<g id="n_Gpx3" transform="translate(116,591.5)"><use href="#P"/><text y="4">Gpx3</text></g>
<g id="n_Tbc1d24" transform="translate(158.5,591.5)"><use href="#P"/><text y="4">Tbc1d24</text></g>
<g id="n_Slc8a1" transform="translate(201,591.5)"><use href="#G"/><text y="4">Slc8a1</text></g>
<g id="n_Src" transform="translate(244,591.5)"><use href="#G"/><text y="4">Src</text></g>
<g id="n_P4hb" transform="translate(286.5,591.5)"><use href="#P"/><text y="4">P4hb</text></g>
<g id="n_Gstp1" transform="translate(329,591.5)"><use href="#P"/><text y="4">Gstp1</text></g>
<g id="n_Hsph1" transform="translate(372,591.5)"><use href="#P"/><text y="4">Hsph1</text></g>
<g id="n_Gpx1" transform="translate(414.5,591.5)"><use href="#P"/><text y="4">Gpx1</text></g>
<g id="n_Sirpa" transform="translate(457,591.5)"><use href="#G"/><text y="4">Sirpa</text></g>
<g id="n_Camk2g" transform="translate(73,613)"><use href="#G"/><text y="4">Camk2g</text></g>
<g id="n_Msra" transform="translate(116,613)"><use href="#P"/><text y="4">Msra</text></g>
<g id="n_Mgst1" transform="translate(158.5,613)"><use href="#P"/><text y="4">Mgst1</text></g>
<g id="n_Dapk1" transform="translate(201,613)"><use href="#G"/><text y="4">Dapk1</text></g>
<g id="n_Mapk9" transform="translate(244,613)"><use href="#G"/><text y="4">Mapk9</text></g>
<g id="n_Prdx3" transform="translate(286.5,613)"><use href="#P"/><text y="4">Prdx3</text></g>
<g id="n_Aldh1a1" transform="translate(329,613)"><use href="#P"/><text y="4">Aldh1a1</text></g>
<g id="n_Aldh2" transform="translate(372,613)"><use href="#P"/><text y="4">Aldh2</text></g>
<g id="n_Acox2" transform="translate(414.5,613)"><use href="#G"/><text y="4">Acox2</text></g>
<g id="n_Lonp1" transform="translate(457,613)"><use href="#P"/><text y="4">Lonp1</text></g>
<g id="n_Anxa1" transform="translate(73,634.5)"><use href="#P"/><text y="4">Anxa1</text></g>
<g id="n_Aldh3b1" transform="translate(116,634.5)"><use href="#P"/><text y="4">Aldh3b1</text></g>
<g id="n_Mapkap1" transform="translate(158.5,634.5)"><use href="#P"/><text y="4">Mapkap1</text></g>
<g id="n_Kpna4" transform="translate(201,634.5)"><use href="#G"/><text y="4">Kpna4</text></g>
<g id="n_Prdx1" transform="translate(244,634.5)"><use href="#P"/><text y="4">Prdx1</text></g>
<g id="n_Capn1" transform="translate(286.5,634.5)"><use href="#P"/><text y="4">Capn1</text></g>
<g id="n_Ptk2b" transform="translate(329,634.5)"><use href="#G"/><text y="4">Ptk2b</text></g>
<g id="n_Pdk1" transform="translate(372,634.5)"><use href="#P"/><text y="4">Pdk1</text></g>
<g id="n_Ppp2cb" transform="translate(414.5,634.5)"><use href="#G"/><text y="4">Ppp2cb</text></g>
<g id="n_Casp6" transform="translate(457,634.5)"><use href="#P"/><text y="4">Casp6</text></g>
<g id="n_Ermp1" transform="translate(73,655.5)"><use href="#G"/><text y="4">Ermp1</text></g>
<g id="n_Aqp1" transform="translate(116,655.5)"><use href="#G"/><text y="4">Aqp1</text></g>
<g id="n_Gclc" transform="translate(158.5,655.5)"><use href="#P"/><text y="4">Gclc</text></g>
<g id="n_Pdk2" transform="translate(201,655.5)"><use href="#P"/><text y="4">Pdk2</text></g>
<g id="n_Rack1" transform="translate(244,655.5)"><use href="#P"/><text y="4">Rack1</text></g>
<g id="n_Als2" transform="translate(286.5,655.5)"><use href="#G"/><text y="4">Als2</text></g>
<g id="n_Stk25" transform="translate(329,655.5)"><use href="#G"/><text y="4">Stk25</text></g>
<g id="n_Gpx4" transform="translate(372,655.5)"><use href="#P"/><text y="4">Gpx4</text></g>
<g id="n_Rps3" transform="translate(414.5,655.5)"><use href="#P"/><text y="4">Rps3</text></g>
<g id="n_Nfkb1" transform="translate(457,655.5)"><use href="#G"/><text y="4">Nfkb1</text></g>
<g id="n_Prkca" transform="translate(73,677)"><use href="#P"/><text y="4">Prkca</text></g>
<g id="n_Vnn1" transform="translate(116,677)"><use href="#G"/><text y="4">Vnn1</text></g>
<g id="n_Txnrd1" transform="translate(158.5,677)"><use href="#P"/><text y="4">Txnrd1</text></g>
<g id="n_COX1" transform="translate(201,677)"><use href="#P"/><text y="4">COX1</text></g>
<g id="n_Cd36" transform="translate(244,677)"><use href="#P"/><text y="4">Cd36</text></g>
<g id="n_Prdx2" transform="translate(286.5,677)"><use href="#P"/><text y="4">Prdx2</text></g>
<g id="n_Prdx4" transform="translate(329,677)"><use href="#G"/><text y="4">Prdx4</text></g>
<g id="n_Etfdh" transform="translate(372,677)"><use href="#G"/><text y="4">Etfdh</text></g>
<g id="n_Prkcd" transform="translate(414.5,677)"><use href="#P"/><text y="4">Prkcd</text></g>
<g id="n_Stx4a" transform="translate(457,677)"><use href="#P"/><text y="4">Stx4a</text></g>
<g id="n_Atg7" transform="translate(73,698)"><use href="#P"/><text y="4">Atg7</text></g>
<g id="n_Impact" transform="translate(116,698)"><use href="#G"/><text y="4">Impact</text></g>
<g id="n_Mpo" transform="translate(158.5,698)"><use href="#G"/><text y="4">Mpo</text></g>
<g id="n_Lancl1" transform="translate(201,698)"><use href="#P"/><text y="4">Lancl1</text></g>
<g id="n_Mapk3" transform="translate(244,698)"><use href="#P"/><text y="4">Mapk3</text></g>
<g id="n_Stk26" transform="translate(286.5,698)"><use href="#G"/><text y="4">Stk26</text></g>
<g id="n_Aifm1" transform="translate(329,698)"><use href="#P"/><text y="4">Aifm1</text></g>
<g id="n_App" transform="translate(372,698)"><use href="#G"/><text y="4">App</text></g>
<g id="n_Bag5" transform="translate(414.5,698)"><use href="#P"/><text y="4">Bag5</text></g>
<g id="n_Crk" transform="translate(457,698)"><use href="#G"/><text y="4">Crk</text></g>
<g id="n_Sirt2" transform="translate(73,719.5)"><use href="#G"/><text y="4">Sirt2</text></g>
<g id="n_Ralbp1" transform="translate(116,719.5)"><use href="#G"/><text y="4">Ralbp1</text></g>
<g id="n_Slc25a24" transform="translate(158.5,719.5)"><use href="#G"/><text y="4">Slc25a24</text></g>
<g id="n_Naprt" transform="translate(201,719.5)"><use href="#P"/><text y="4">Naprt</text></g>
<g id="n_Ndufb4" transform="translate(244,719.5)"><use href="#G"/><text y="4">Ndufb4</text></g>
<g id="n_Ppid" transform="translate(286.5,719.5)"><use href="#G"/><text y="4">Ppid</text></g>
<g id="n_Prdx5" transform="translate(329,719.5)"><use href="#P"/><text y="4">Prdx5</text></g>
<g id="n_Pycr2" transform="translate(372,719.5)"><use href="#P"/><text y="4">Pycr2</text></g>
<g id="n_Idh1" transform="translate(414.5,719.5)"><use href="#P"/><text y="4">Idh1</text></g>
<g id="n_Car3" transform="translate(457,719.5)"><use href="#P"/><text y="4">Car3</text></g>
</g>

<g id="cluster-trna" class="nd">
<rect class="box" x="500" y="598" width="217" height="139" rx="16" stroke="#ede548"/>
<text class="ttl" x="608" y="759" style="font-size:15.5px">tRNA aminoacylation</text>
<text class="ttl" x="608" y="777" style="font-size:15.5px">for protein translation</text>
<g id="n_Aars" transform="translate(525,613)"><use href="#P"/><text y="4">Aars</text></g>
<g id="n_Mars1" transform="translate(567,613)"><use href="#P"/><text y="4">Mars1</text></g>
<g id="n_Cars" transform="translate(608.5,613)"><use href="#P"/><text y="4">Cars</text></g>
<g id="n_Eprs" transform="translate(650,613)"><use href="#P"/><text y="4">Eprs</text></g>
<g id="n_Kars" transform="translate(525,635)"><use href="#G"/><text y="4">Kars</text></g>
<g id="n_Farsa" transform="translate(567,635)"><use href="#P"/><text y="4">Farsa</text></g>
<g id="n_Sars" transform="translate(608.5,635)"><use href="#P"/><text y="4">Sars</text></g>
<g id="n_Tarsl2" transform="translate(650,635)"><use href="#G"/><text y="4">Tarsl2</text></g>
<g id="n_Qars" transform="translate(692,635)"><use href="#P"/><text y="4">Qars</text></g>
<g id="n_Lars" transform="translate(525,656)"><use href="#P"/><text y="4">Lars</text></g>
<g id="n_Dars2" transform="translate(567,656)"><use href="#G"/><text y="4">Dars2</text></g>
<g id="n_Mars2" transform="translate(608.5,656)"><use href="#G"/><text y="4">Mars2</text></g>
<g id="n_Sars2" transform="translate(650,656)"><use href="#G"/><text y="4">Sars2</text></g>
<g id="n_Vars" transform="translate(692,656)"><use href="#P"/><text y="4">Vars</text></g>
<g id="n_Hars" transform="translate(525,677)"><use href="#G"/><text y="4">Hars</text></g>
<g id="n_Lars2" transform="translate(567,677)"><use href="#G"/><text y="4">Lars2</text></g>
<g id="n_Wars" transform="translate(608.5,677)"><use href="#P"/><text y="4">Wars</text></g>
<g id="n_Yars2" transform="translate(650,677)"><use href="#G"/><text y="4">Yars2</text></g>
<g id="n_Yars" transform="translate(692,677)"><use href="#G"/><text y="4">Yars</text></g>
<g id="n_Iars" transform="translate(525,698.5)"><use href="#P"/><text y="4">Iars</text></g>
<g id="n_Tars" transform="translate(567,698.5)"><use href="#P"/><text y="4">Tars</text></g>
<g id="n_Iars2" transform="translate(608.5,698.5)"><use href="#P"/><text y="4">Iars2</text></g>
<g id="n_Rars" transform="translate(650,698.5)"><use href="#P"/><text y="4">Rars</text></g>
<g id="n_Farsb" transform="translate(692,698.5)"><use href="#P"/><text y="4">Farsb</text></g>
<g id="n_Rars2" transform="translate(525,720)"><use href="#P"/><text y="4">Rars2</text></g>
<g id="n_Nars" transform="translate(567,720)"><use href="#P"/><text y="4">Nars</text></g>
<g id="n_Dars" transform="translate(608.5,720)"><use href="#P"/><text y="4">Dars</text></g>
<g id="n_Hars2" transform="translate(650,720)"><use href="#G"/><text y="4">Hars2</text></g>
<g id="n_Gars" transform="translate(692,720)"><use href="#P"/><text y="4">Gars</text></g>
</g>

<g id="cluster-ribosome" class="nd">
<rect class="box" x="730" y="533" width="358" height="205" rx="20" stroke="#4a67ad"/>
<text class="ttl" x="910" y="756" style="font-size:15.5px">Ribosome biogenesis</text>
<g id="n_Rpp30" transform="translate(931,547)"><use href="#G"/><text y="4">Rpp30</text></g>
<g id="n_Rps2" transform="translate(974.5,547)"><use href="#P"/><text y="4">Rps2</text></g>
<g id="n_Rps15" transform="translate(1016,547)"><use href="#P"/><text y="4">Rps15</text></g>
<g id="n_Rpl11" transform="translate(1058.5,547)"><use href="#P"/><text y="4">Rpl11</text></g>
<g id="n_Pa2g4" transform="translate(760,569)"><use href="#P"/><text y="4">Pa2g4</text></g>
<g id="n_Fbll1" transform="translate(803,569)"><use href="#G"/><text y="4">Fbll1</text></g>
<g id="n_Mrpl10" transform="translate(845.5,569)"><use href="#P"/><text y="4">Mrpl10</text></g>
<g id="n_Brix1" transform="translate(888,569)"><use href="#G"/><text y="4">Brix1</text></g>
<g id="n_Nat10" transform="translate(931,569)"><use href="#P"/><text y="4">Nat10</text></g>
<g id="n_Gtpbp10" transform="translate(974.5,569)"><use href="#G"/><text y="4">Gtpbp10</text></g>
<g id="n_Rpl10" transform="translate(1016,569)"><use href="#P"/><text y="4">Rpl10</text></g>
<g id="n_Pes1" transform="translate(1058.5,569)"><use href="#G"/><text y="4">Pes1</text></g>
<g id="n_Rplp0" transform="translate(760,590.5)"><use href="#P"/><text y="4">Rplp0</text></g>
<g id="n_D1Pas1" transform="translate(803,590.5)"><use href="#G"/><text y="4">D1Pas1</text></g>
<g id="n_Rrp1" transform="translate(845.5,590.5)"><use href="#G"/><text y="4">Rrp1</text></g>
<g id="n_Rps8" transform="translate(888,590.5)"><use href="#P"/><text y="4">Rps8</text></g>
<g id="n_Ddx18" transform="translate(931,590.5)"><use href="#P"/><text y="4">Ddx18</text></g>
<g id="n_Rps6" transform="translate(974.5,590.5)"><use href="#P"/><text y="4">Rps6</text></g>
<g id="n_Rps17" transform="translate(1016,590.5)"><use href="#P"/><text y="4">Rps17</text></g>
<g id="n_Rpl3" transform="translate(1058.5,590.5)"><use href="#P"/><text y="4">Rpl3</text></g>
<g id="n_Rpl27" transform="translate(760,612)"><use href="#G"/><text y="4">Rpl27</text></g>
<g id="n_Wdr12" transform="translate(803,612)"><use href="#P"/><text y="4">Wdr12</text></g>
<g id="n_Rps5" transform="translate(845.5,612)"><use href="#P"/><text y="4">Rps5</text></g>
<g id="n_Rpsa" transform="translate(888,612)"><use href="#P"/><text y="4">Rpsa</text></g>
<g id="n_Rnasel" transform="translate(931,612)"><use href="#G"/><text y="4">Rnasel</text></g>
<g id="n_Dhx30" transform="translate(974.5,612)"><use href="#G"/><text y="4">Dhx30</text></g>
<g id="n_Eif6" transform="translate(1016,612)"><use href="#G"/><text y="4">Eif6</text></g>
<g id="n_Pak1ip1" transform="translate(1058.5,612)"><use href="#G"/><text y="4">Pak1ip1</text></g>
<g id="n_Mybbp1a" transform="translate(760,633.5)"><use href="#P"/><text y="4">Mybbp1a</text></g>
<g id="n_Efl1" transform="translate(803,633.5)"><use href="#P"/><text y="4">Efl1</text></g>
<g id="n_Rpl5" transform="translate(845.5,633.5)"><use href="#P"/><text y="4">Rpl5</text></g>
<g id="n_Rpl26" transform="translate(888,633.5)"><use href="#P"/><text y="4">Rpl26</text></g>
<g id="n_Fbl" transform="translate(931,633.5)"><use href="#P"/><text y="4">Fbl</text></g>
<g id="n_Rpl35" transform="translate(974.5,633.5)"><use href="#P"/><text y="4">Rpl35</text></g>
<g id="n_Rps25" transform="translate(1016,633.5)"><use href="#P"/><text y="4">Rps25</text></g>
<g id="n_Rpusd4" transform="translate(1058.5,633.5)"><use href="#P"/><text y="4">Rpusd4</text></g>
<g id="n_Rpl14" transform="translate(760,655)"><use href="#P"/><text y="4">Rpl14</text></g>
<g id="n_Mrps2" transform="translate(803,655)"><use href="#P"/><text y="4">Mrps2</text></g>
<g id="n_Rpl6" transform="translate(845.5,655)"><use href="#P"/><text y="4">Rpl6</text></g>
<g id="n_Nop58" transform="translate(888,655)"><use href="#P"/><text y="4">Nop58</text></g>
<g id="n_Rps7" transform="translate(931,655)"><use href="#P"/><text y="4">Rps7</text></g>
<g id="n_Ddx21" transform="translate(974.5,655)"><use href="#G"/><text y="4">Ddx21</text></g>
<g id="n_Nop56" transform="translate(1016,655)"><use href="#P"/><text y="4">Nop56</text></g>
<g id="n_Rpl23a" transform="translate(1058.5,655)"><use href="#P"/><text y="4">Rpl23a</text></g>
<g id="n_Mrpl1" transform="translate(760,676)"><use href="#G"/><text y="4">Mrpl1</text></g>
<g id="n_Rpl7a" transform="translate(803,676)"><use href="#P"/><text y="4">Rpl7a</text></g>
<g id="n_Riox2" transform="translate(845.5,676)"><use href="#G"/><text y="4">Riox2</text></g>
<g id="n_Cul4a" transform="translate(888,676)"><use href="#G"/><text y="4">Cul4a</text></g>
<g id="n_Rrp12" transform="translate(931,676)"><use href="#G"/><text y="4">Rrp12</text></g>
<g id="n_Ran" transform="translate(974.5,676)"><use href="#P"/><text y="4">Ran</text></g>
<g id="n_Lyar" transform="translate(1016,676)"><use href="#G"/><text y="4">Lyar</text></g>
<g id="n_Pwp1" transform="translate(1058.5,676)"><use href="#G"/><text y="4">Pwp1</text></g>
<g id="n_Xpo1" transform="translate(760,697.5)"><use href="#P"/><text y="4">Xpo1</text></g>
<g id="n_Rps14" transform="translate(803,697.5)"><use href="#P"/><text y="4">Rps14</text></g>
<g id="n_Rpl7" transform="translate(845.5,697.5)"><use href="#P"/><text y="4">Rpl7</text></g>
<g id="n_Nmd3" transform="translate(888,697.5)"><use href="#G"/><text y="4">Nmd3</text></g>
<g id="n_Rps16" transform="translate(931,697.5)"><use href="#P"/><text y="4">Rps16</text></g>
<g id="n_Rpl24" transform="translate(974.5,697.5)"><use href="#P"/><text y="4">Rpl24</text></g>
<g id="n_Rsl1d1" transform="translate(1016,697.5)"><use href="#P"/><text y="4">Rsl1d1</text></g>
<g id="n_Glul" transform="translate(1058.5,697.5)"><use href="#P"/><text y="4">Glul</text></g>
<g id="n_Rps24" transform="translate(760,718.5)"><use href="#P"/><text y="4">Rps24</text></g>
<g id="n_Abce1" transform="translate(803,718.5)"><use href="#P"/><text y="4">Abce1</text></g>
<g id="n_Rpl7l1" transform="translate(845.5,718.5)"><use href="#G"/><text y="4">Rpl7l1</text></g>
<g id="n_Pelp1" transform="translate(888,718.5)"><use href="#G"/><text y="4">Pelp1</text></g>
<g id="n_Rps19" transform="translate(931,718.5)"><use href="#P"/><text y="4">Rps19</text></g>
<g id="n_Tsr1" transform="translate(974.5,718.5)"><use href="#G"/><text y="4">Tsr1</text></g>
<g id="n_Dkc1" transform="translate(1016,718.5)"><use href="#P"/><text y="4">Dkc1</text></g>
<g id="n_Ddx3x" transform="translate(1058.5,718.5)"><use href="#P"/><text y="4">Ddx3x</text></g>
</g>
</svg>
